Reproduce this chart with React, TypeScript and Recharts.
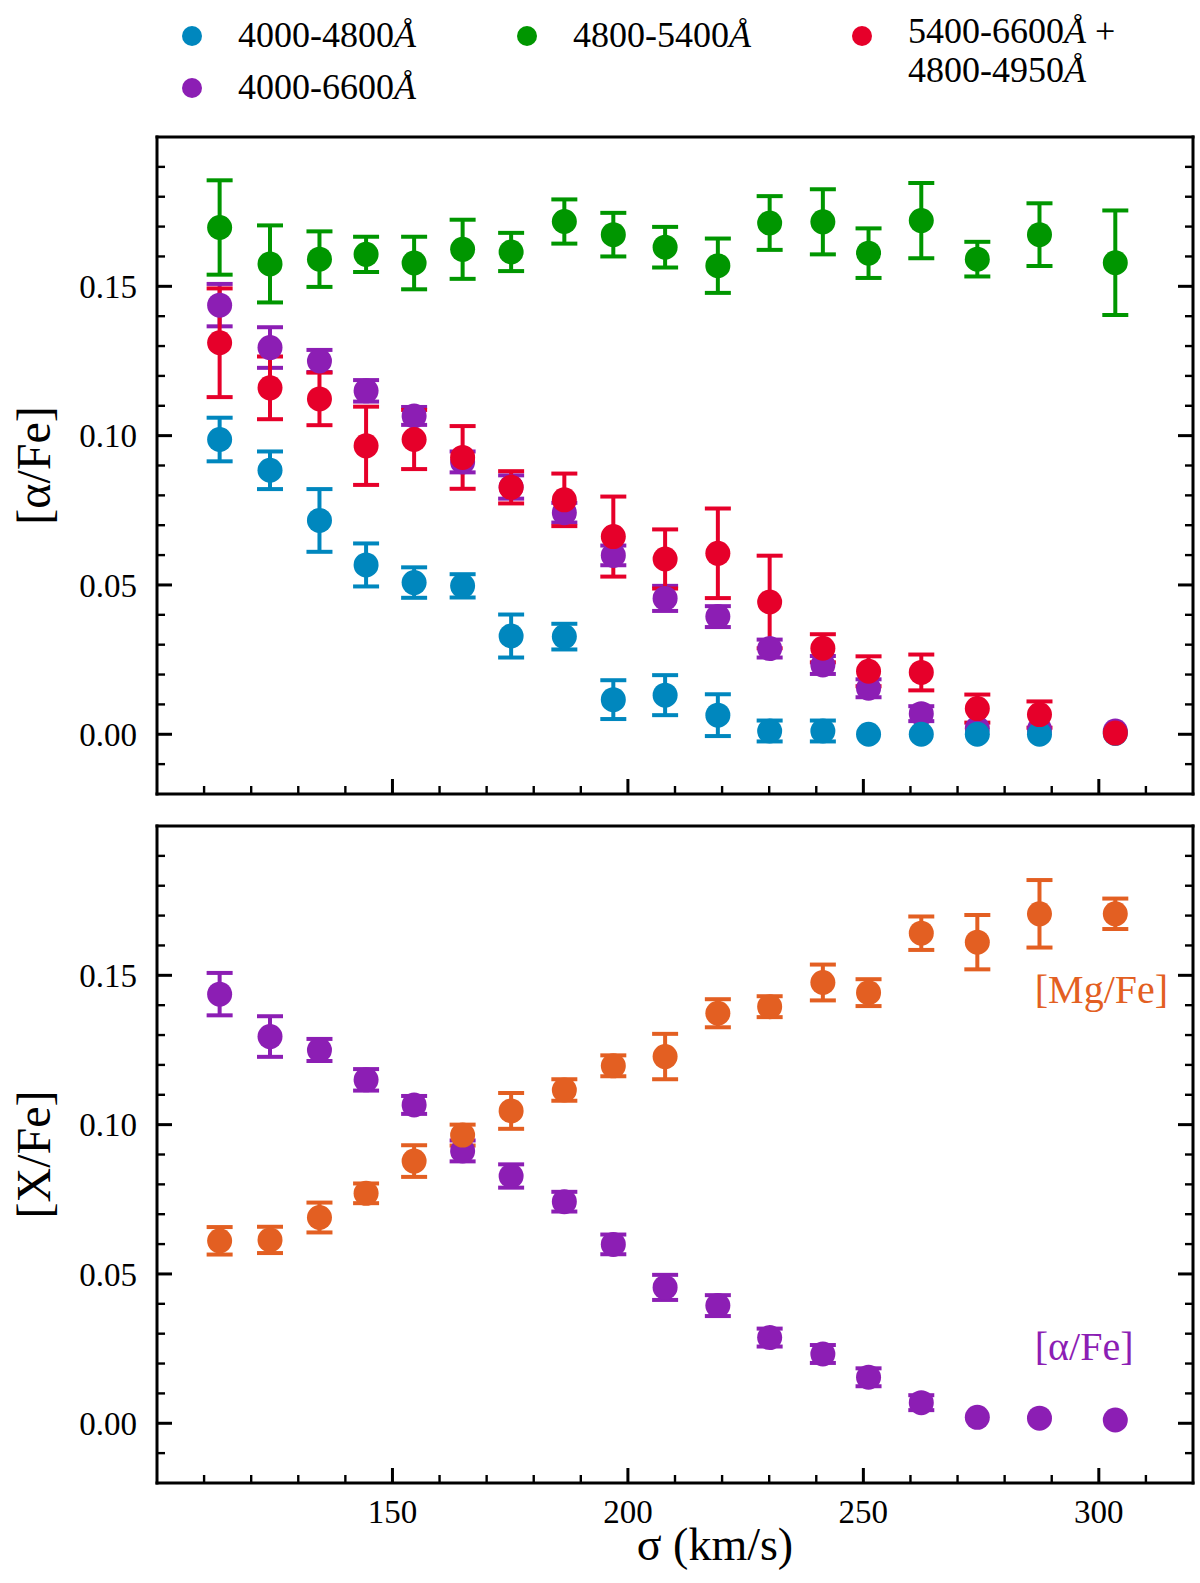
import { ScatterChart, Scatter, XAxis, YAxis, ErrorBar, ReferenceDot } from "recharts";

// velocity dispersion bins (km/s), shared by every series
const SIGMA = [113.3, 124.0, 134.5, 144.4, 154.6, 164.9, 175.2, 186.5, 196.9, 207.9, 219.1, 230.1, 241.4, 251.1, 262.3, 274.2, 287.4, 303.5];

// top panel: [alpha/Fe] per wavelength range
const BLUE_Y = [0.0987, 0.0884, 0.0716, 0.0567, 0.0508, 0.0497, 0.0329, 0.0327, 0.0116, 0.0131, 0.0064, 0.0011, 0.0011, 0.0, 0.0, 0.0, 0.0, 0.0003];
const BLUE_E = [0.0073, 0.0063, 0.0105, 0.0072, 0.0051, 0.0039, 0.0072, 0.0043, 0.0065, 0.0067, 0.007, 0.0035, 0.0035, 0, 0, 0, 0, 0];
const GREEN_Y = [0.1697, 0.1575, 0.1591, 0.1607, 0.1578, 0.1624, 0.1615, 0.1717, 0.1673, 0.1631, 0.1569, 0.1712, 0.1716, 0.1611, 0.172, 0.1591, 0.1673, 0.1579];
const GREEN_E = [0.0158, 0.0129, 0.0093, 0.0059, 0.0088, 0.0099, 0.0064, 0.0074, 0.0073, 0.0068, 0.0091, 0.009, 0.0109, 0.0083, 0.0126, 0.0058, 0.0105, 0.0175];
const PURPLE_Y = [0.1437, 0.1295, 0.125, 0.115, 0.1066, 0.0912, 0.0828, 0.0742, 0.0599, 0.0455, 0.0394, 0.0287, 0.0232, 0.0154, 0.0069, 0.002, 0.0017, 0.0011];
const PURPLE_E = [0.0071, 0.0068, 0.0037, 0.0036, 0.003, 0.0035, 0.0039, 0.0033, 0.0033, 0.0042, 0.0035, 0.003, 0.003, 0.003, 0.0025, 0, 0, 0];
const RED_Y = [0.1311, 0.116, 0.1123, 0.0966, 0.0987, 0.0927, 0.0827, 0.0785, 0.0662, 0.0587, 0.0606, 0.0443, 0.0288, 0.0211, 0.0207, 0.0086, 0.0066, 0.0004];
const RED_E = [0.0182, 0.0105, 0.0088, 0.0131, 0.0099, 0.0105, 0.0054, 0.0088, 0.0134, 0.0099, 0.015, 0.0155, 0.0047, 0.005, 0.006, 0.0047, 0.0044, 0];

// bottom panel: [Mg/Fe] (the [alpha/Fe] series is the purple one above)
const MG_Y = [0.0611, 0.0614, 0.0689, 0.077, 0.0878, 0.0965, 0.1046, 0.1116, 0.1197, 0.1228, 0.1373, 0.1395, 0.1476, 0.1442, 0.1641, 0.1611, 0.1706, 0.1706];
const MG_E = [0.0046, 0.0044, 0.005, 0.0033, 0.0053, 0.0035, 0.006, 0.0036, 0.0035, 0.0076, 0.0047, 0.0035, 0.006, 0.0045, 0.0056, 0.0091, 0.0113, 0.0051];

const X_DOMAIN = [100, 320];
const Y_DOMAIN = [-0.02, 0.2];
const X_MAJOR = [150, 200, 250, 300];
const X_MINOR = [110, 120, 130, 140, 160, 170, 180, 190, 210, 220, 230, 240, 260, 270, 280, 290, 310];
const Y_MAJOR = [0, 0.05, 0.1, 0.15];
const Y_MINOR = [-0.01, 0.01, 0.02, 0.03, 0.04, 0.06, 0.07, 0.08, 0.09, 0.11, 0.12, 0.13, 0.14, 0.16, 0.17, 0.18, 0.19];
const X_TICKS = [...X_MAJOR, ...X_MINOR].sort((a, b) => a - b);
const Y_TICKS = [...Y_MAJOR, ...Y_MINOR].sort((a, b) => a - b);

const BLUE = "#0087BE";
const GREEN = "#009600";
const PURPLE = "#8C1EB4";
const RED = "#E6002A";
const ORANGE = "#E35F22";

const FONT = "'Liberation Serif', 'Times New Roman', serif";
const AXIS_LINE = { stroke: "#000", strokeWidth: 3, strokeLinecap: "square" as const };

const rows = (ys: number[], es: number[]) => SIGMA.map((s, i) => ({ s, v: ys[i], e: es[i] }));

const near = (list: number[], v: number) => list.some((m) => Math.abs(m - v) < 1e-9);

// inward ticks like matplotlib's direction="in"
function makeTick(side: "bottom" | "top" | "left" | "right", labels: boolean) {
  return (props: any) => {
    const { x, y, payload } = props;
    const v = payload.value;
    const horiz = side === "bottom" || side === "top";
    const major = horiz ? near(X_MAJOR, v) : near(Y_MAJOR, v);
    const len = major ? 15 : 8;
    let x2 = x;
    let y2 = y;
    if (side === "bottom") y2 = y - len;
    if (side === "top") y2 = y + len;
    if (side === "left") x2 = x + len;
    if (side === "right") x2 = x - len;
    return (
      <g>
        <line x1={x} y1={y} x2={x2} y2={y2} stroke="#000" strokeWidth={major ? 3 : 2.4} />
        {labels && major && side === "bottom" && (
          <text x={x} y={y + 40} textAnchor="middle" fontFamily={FONT} fontSize={33} fill="#000">
            {v}
          </text>
        )}
        {labels && major && side === "left" && (
          <text x={x - 20} y={y} dy="0.35em" textAnchor="end" fontFamily={FONT} fontSize={33} fill="#000">
            {v.toFixed(2)}
          </text>
        )}
      </g>
    );
  };
}

const yTitle = (text: string) => (props: any) => {
  const vb = props.viewBox;
  const cy = vb.y + vb.height / 2;
  return (
    <text x={33} y={cy} transform={`rotate(-90 33 ${cy})`} textAnchor="middle" dominantBaseline="central" fontFamily={FONT} fontSize={48} fill="#000">
      {text}
    </text>
  );
};

const xTitle = (props: any) => {
  const vb = props.viewBox;
  return (
    <text x={vb.x + vb.width / 2 + 40} y={vb.y + 77} textAnchor="middle" fontFamily={FONT} fontSize={46} fill="#000">
      σ (km/s)
    </text>
  );
};

const note = (text: string, color: string) => (props: any) => {
  const vb = props.viewBox;
  return (
    <text x={vb.x} y={vb.y} dominantBaseline="central" fontFamily={FONT} fontSize={40} fill={color}>
      {text}
    </text>
  );
};

const dot = (color: string) => (p: any) => <circle cx={p.cx} cy={p.cy} r={12.5} fill={color} />;
const none = () => <g />;

// axis boxes are 1px thick: recharts skips drawing an axis with zero size
function frame(showX: boolean, title: string) {
  return [
    <XAxis key="xb" type="number" dataKey="s" domain={X_DOMAIN} ticks={X_TICKS} interval={0} height={1} tickSize={0} tickMargin={0} tickLine={false} axisLine={AXIS_LINE} tick={makeTick("bottom", showX)} label={showX ? xTitle : undefined} allowDataOverflow />,
    <XAxis key="xt" xAxisId="top" orientation="top" type="number" domain={X_DOMAIN} ticks={X_TICKS} interval={0} height={1} tickSize={0} tickMargin={0} tickLine={false} axisLine={AXIS_LINE} tick={makeTick("top", false)} allowDataOverflow />,
    <YAxis key="yl" type="number" dataKey="v" domain={Y_DOMAIN} ticks={Y_TICKS} interval={0} width={1} tickSize={0} tickMargin={0} tickLine={false} axisLine={AXIS_LINE} tick={makeTick("left", true)} label={yTitle(title)} allowDataOverflow />,
    <YAxis key="yr" yAxisId="right" orientation="right" type="number" domain={Y_DOMAIN} ticks={Y_TICKS} interval={0} width={1} tickSize={0} tickMargin={0} tickLine={false} axisLine={AXIS_LINE} tick={makeTick("right", false)} allowDataOverflow />,
  ];
}

// error bars go underneath all markers, then markers in drawing order
function layers(series: { data: any[]; color: string; name: string }[]) {
  const bars = series.map((s) => (
    <Scatter key={"e" + s.name} name={s.name + " err"} data={s.data} shape={none} legendType="none" isAnimationActive={false}>
      <ErrorBar dataKey="e" direction="y" width={13} strokeWidth={4} stroke={s.color} isAnimationActive={false} />
    </Scatter>
  ));
  const marks = series.map((s) => (
    <Scatter key={"m" + s.name} name={s.name} data={s.data} shape={dot(s.color)} isAnimationActive={false} />
  ));
  return [...bars, ...marks];
}

const A = <tspan fontStyle="italic">Å</tspan>;

function LegendBlock() {
  const t = { fontFamily: FONT, fontSize: 36, fill: "#000" };
  return (
    <svg width={1200} height={110} style={{ position: "absolute", left: 0, top: 0 }}>
      <circle cx={192} cy={36} r={10} fill={BLUE} />
      <text x={238} y={47} {...t}>4000-4800{A}</text>
      <circle cx={192} cy={88} r={10} fill={PURPLE} />
      <text x={238} y={99} {...t}>4000-6600{A}</text>
      <circle cx={527} cy={36} r={10} fill={GREEN} />
      <text x={573} y={47} {...t}>4800-5400{A}</text>
      <circle cx={862} cy={36} r={10} fill={RED} />
      <text x={908} y={43} {...t}>5400-6600{A} +</text>
      <text x={908} y={82} {...t}>4800-4950{A}</text>
    </svg>
  );
}

export default function App() {
  const top = [
    { name: "4000-6600", color: PURPLE, data: rows(PURPLE_Y, PURPLE_E) },
    { name: "4800-5400", color: GREEN, data: rows(GREEN_Y, GREEN_E) },
    { name: "4000-4800", color: BLUE, data: rows(BLUE_Y, BLUE_E) },
    { name: "5400-6600+4800-4950", color: RED, data: rows(RED_Y, RED_E) },
  ];
  const bottom = [
    { name: "[α/Fe]", color: PURPLE, data: rows(PURPLE_Y, PURPLE_E) },
    { name: "[Mg/Fe]", color: ORANGE, data: rows(MG_Y, MG_E) },
  ];

  return (
    <div style={{ position: "absolute", left: 0, top: 0, width: 1200, height: 1583, background: "#fff", fontFamily: FONT }}>
      <LegendBlock />
      <div style={{ position: "absolute", left: 0, top: 100 }}>
        <ScatterChart width={1200} height={730} margin={{ top: 36, right: 6, bottom: 35, left: 156 }}>
          {frame(false, "[α/Fe]")}
          {layers(top)}
        </ScatterChart>
      </div>
      <div style={{ position: "absolute", left: 0, top: 800 }}>
        <ScatterChart width={1200} height={783} margin={{ top: 25, right: 6, bottom: 99, left: 156 }}>
          {frame(true, "[X/Fe]")}
          {layers(bottom)}
          <ReferenceDot x={286.4} y={0.1451} r={0} fill="none" stroke="none" ifOverflow="visible" label={note("[Mg/Fe]", ORANGE)} />
          <ReferenceDot x={286.4} y={0.0256} r={0} fill="none" stroke="none" ifOverflow="visible" label={note("[α/Fe]", PURPLE)} />
        </ScatterChart>
      </div>
    </div>
  );
}
